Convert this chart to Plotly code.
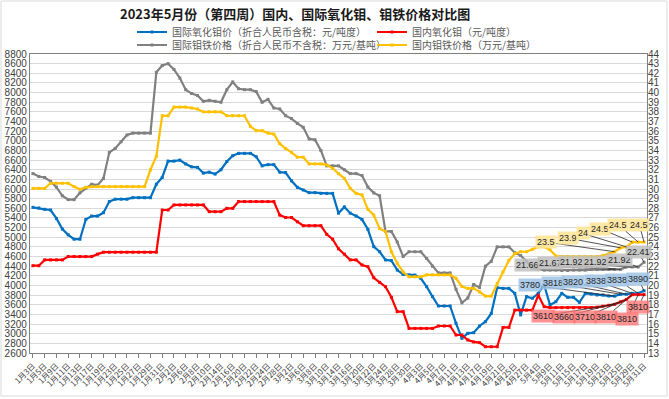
import plotly.graph_objects as go

# ---------------- data ----------------
months_days = [
    (1, [3, 4, 5, 6, 9, 10, 11, 12, 13, 16, 17, 18, 19, 20, 23, 24, 25, 26, 27, 28, 29, 30, 31]),
    (2, [1, 2, 3, 6, 7, 8, 9, 10, 13, 14, 15, 16, 17, 20, 21, 22, 23, 24, 27, 28]),
    (3, [1, 2, 3, 6, 7, 8, 9, 10, 13, 14, 15, 16, 17, 20, 21, 22, 23, 24, 27, 28, 29, 30, 31]),
    (4, [3, 4, 5, 6, 7, 10, 11, 12, 13, 14, 17, 18, 19, 20, 21, 24, 25, 26, 27, 28]),
    (5, [4, 8, 9, 10, 11, 12, 15, 16, 17, 18, 19, 22, 23, 24, 25, 26, 29, 30, 31]),
]
dates = [f"{m}月{d}日" for m, days in months_days for d in days]

intl_oxide = [5620, 5607, 5580, 5565, 5390, 5170, 5050, 4960, 4960, 5370,
              5440, 5440, 5510, 5740, 5790, 5790, 5790, 5820, 5820, 5820,
              5820, 6100, 6240, 6580, 6580, 6600, 6520, 6460, 6450, 6330,
              6350, 6310, 6400, 6570, 6690, 6740, 6740, 6740, 6670, 6480,
              6505, 6505, 6350, 6340, 6170, 6035, 5980, 5925, 5925, 5910,
              5910, 5910, 5500, 5630, 5500, 5440, 5370, 5165, 4805, 4700,
              4530, 4515, 4320, 4230, 4217, 4217, 4150, 3975, 3770, 3575,
              3575, 3575, 3215, 2905, 3008, 3022, 3160, 3250, 3420, 3955,
              3940, 3940, 3837, 3390, 3770, 3735, 3837, 4010, 3595, 3665,
              3837, 3755, 3755, 3650, 3837, 3823, 3803, 3803, 3782, 3780,
              3818, 3820, 3838, 3838, 3890]

dom_oxide = [4410, 4410, 4530, 4530, 4530, 4530, 4600, 4600, 4600, 4600,
             4600, 4650, 4690, 4690, 4690, 4690, 4690, 4690, 4690, 4690,
             4690, 4690, 5565, 5565, 5670, 5670, 5670, 5670, 5670, 5670,
             5530, 5530, 5530, 5600, 5600, 5740, 5740, 5740, 5740, 5740,
             5740, 5740, 5460, 5410, 5410, 5320, 5240, 5240, 5240, 5240,
             5060, 4960, 4760, 4650, 4530, 4530, 4425, 4390, 4160, 4065,
             3975, 3755, 3457, 3457, 3110, 3110, 3110, 3110, 3110, 3160,
             3160, 3160, 2973, 2973, 2870, 2830, 2815, 2730, 2730, 2730,
             3130, 3130, 3490, 3490, 3490, 3490, 3800, 3560, 3540, 3540,
             3540, 3540, 3540, 3540, 3540, 3540, 3550, 3570, 3590, 3610,
             3660, 3710, 3810, 3810, 3810]

intl_feMo = [31.6, 31.3, 31.2, 30.8, 30.2, 29.3, 28.9, 28.9, 29.6, 30.1,
             30.5, 30.4, 31.1, 33.8, 34.2, 34.9, 35.6, 35.8, 35.8, 35.8,
             35.8, 42.1, 42.8, 43.0, 42.4, 41.5, 40.3, 39.9, 39.7, 39.1,
             39.2, 39.1, 39.0, 40.3, 41.1, 40.4, 40.3, 40.3, 40.1, 39.0,
             39.3, 38.4, 38.3, 37.6, 37.3, 36.8, 36.4, 35.2, 35.1, 34.0,
             32.4, 32.4, 32.4, 32.0, 31.6, 31.6, 31.4, 30.2, 29.6, 29.3,
             25.6, 25.6, 24.5, 23.0, 23.5, 23.5, 23.5, 22.8, 22.0, 21.3,
             21.3, 21.3, 19.6, 18.2, 18.7, 20.1, 19.8, 22.0, 22.5, 24.0,
             24.0, 24.0, 23.4, 23.1, 22.5, 21.8, 21.7, 21.6, 21.6, 21.6,
             21.55, 21.55, 21.6, 21.6, 21.6, 21.65, 21.65, 21.66, 21.66, 21.66,
             21.67, 21.92, 21.92, 21.92, 22.41]

dom_feMo = [30.07, 30.07, 30.07, 30.6, 30.6, 30.6, 30.6, 30.25, 29.97, 30.18,
            30.25, 30.25, 30.25, 30.25, 30.25, 30.25, 30.25, 30.25, 30.25, 30.25,
            32.0, 33.4, 37.6, 37.6, 38.5, 38.5, 38.5, 38.4, 38.3, 38.0,
            38.0, 38.0, 38.0, 37.6, 37.6, 37.6, 37.6, 36.5, 36.05, 36.05,
            35.8, 35.7, 34.7, 34.2, 33.8, 33.3, 33.3, 32.6, 32.6, 32.6,
            32.5, 32.15, 31.6, 31.1, 30.07, 29.55, 29.4, 27.9, 27.3, 25.9,
            25.6, 23.5, 22.3, 21.4, 20.9, 20.9, 20.9, 21.1, 21.1, 21.1,
            21.1, 21.1, 20.75, 19.9, 19.7, 19.7, 19.35, 18.9, 18.9, 20.2,
            21.4, 22.6, 23.3, 23.5, 23.5, 23.75, 24.0, 24.0, 23.7, 23.05,
            23.0, 23.0, 23.0, 23.0, 23.0, 23.0, 23.0, 23.1, 23.3, 23.5,
            23.9, 24.0, 24.5, 24.5, 24.5]

names = ["国际氧化钼价（折合人民币含税：元/吨度）", "国内氧化钼（元/吨度）",
         "国际钼铁价格（折合人民币不含税：万元/基吨）", "国内钼铁价格（万元/基吨）"]
colors = ["#0070C0", "#FF0000", "#808080", "#FFC000"]

# data-label placement (label box centres, in axis units) for the last six points
n_lab = 6
lab_x_blue = [84.6, 88.5, 91.9, 95.8, 99.4, 103.0]
lab_y_blue = [4010, 4052, 4072, 4093, 4114, 4134]
lab_x_red = [86.8, 90.4, 94.0, 97.5, 101.1, 103.0]
lab_y_red = [3367, 3346, 3346, 3346, 3305, 3554]
lab_x_gray = [84.1, 88.0, 91.6, 95.8, 99.9, 103.0]
lab_y_gray = [22.1, 22.3, 22.4, 22.4, 22.6, 23.5]
lab_x_yel = [87.3, 91.1, 93.6, 96.5, 99.6, 103.2]
lab_y_yel = [24.5, 24.9, 25.4, 25.9, 26.3, 26.3]

# ---------------- figure ----------------
W, H = 669, 399
ML, MR, MT, MB = 30, 22, 54, 46
xs = list(range(len(dates)))

fig = go.Figure()
series = [(intl_oxide, "y", "legend"), (dom_oxide, "y", "legend"),
          (intl_feMo, "y2", "legend2"), (dom_feMo, "y2", "legend2")]
for (vals, yax, leg), nm, col in zip(series, names, colors):
    fig.add_trace(go.Scatter(
        x=xs, y=vals, name=nm, yaxis=yax, legend=leg,
        mode="lines+markers",
        line=dict(color=col, width=2.2),
        marker=dict(symbol="square", size=3, color=col),
    ))

label_sets = [
    (intl_oxide, "y", lab_x_blue, lab_y_blue, "rgba(157,195,230,0.85)", "{:.0f}"),
    (dom_oxide, "y", lab_x_red, lab_y_red, "rgba(255,110,110,0.75)", "{:.0f}"),
    (intl_feMo, "y2", lab_x_gray, lab_y_gray, "rgba(191,191,191,0.85)", "{:g}"),
    (dom_feMo, "y2", lab_x_yel, lab_y_yel, "rgba(255,230,153,0.9)", "{:g}"),
]
annotations = []
N = len(dates)
for vals, yax, lx, ly, bg, fmt in label_sets:
    for k in range(n_lab):
        i = N - n_lab + k
        annotations.append(dict(
            x=xs[i], y=vals[i], xref="x", yref=yax,
            ax=lx[k], ay=ly[k], axref="x", ayref=yax,
            text=fmt.format(vals[i]), showarrow=True, arrowhead=0,
            arrowwidth=0.8, arrowcolor="#262626", standoff=0,
            bgcolor=bg, borderpad=1,
            font=dict(family="Liberation Sans, Arial", size=9, color="#262626"),
        ))

pw, ph = W - ML - MR, H - MT - MB
annotations.append(dict(
    text="<b>2023年5月份（第四周）国内、国际氧化钼、钼铁价格对比图</b>",
    xref="paper", yref="paper", x=(295 - ML) / pw, y=(H - MB - 13) / ph,
    xanchor="center", yanchor="middle", showarrow=False,
    font=dict(family="Noto Sans CJK SC", size=13, color="#1a1a1a"),
))

fig.add_shape(type="rect", xref="paper", yref="paper",
              x0=(1 - ML) / pw, x1=(W - 2 - ML) / pw,
              y0=(H - MB - (H - 3)) / ph, y1=(H - MB - 1) / ph,
              line=dict(color="#D9D9D9", width=1), layer="below")

legend_common = dict(
    orientation="h", xref="container", yref="container",
    xanchor="left", yanchor="middle",
    entrywidth=195, entrywidthmode="pixels",
    font=dict(family="Noto Sans CJK SC", size=10, color="#595959"),
    bgcolor="rgba(0,0,0,0)", itemwidth=30, tracegroupgap=0,
)

fig.update_layout(
    width=W, height=H,
    margin=dict(l=ML, r=MR, t=MT, b=MB, autoexpand=False),
    paper_bgcolor="white", plot_bgcolor="white",
    showlegend=True,
    legend=dict(x=132 / W, y=1 - 32 / H, **legend_common),
    legend2=dict(x=132 / W, y=1 - 45 / H, **legend_common),
    annotations=annotations,
    font=dict(family="Liberation Sans, Arial", size=10, color="#404040"),
    xaxis=dict(
        range=[-0.5, N - 0.5], tickmode="array",
        tickvals=xs[::2], ticktext=dates[::2], tickangle=-45,
        tickfont=dict(family="Noto Sans CJK SC", size=8, color="#404040"),
        showgrid=False, zeroline=False, automargin=False,
        showline=True, linecolor="#7F7F7F", linewidth=1.3, mirror=True,
        ticks="outside", ticklen=4, tickcolor="#7F7F7F",
    ),
    yaxis=dict(
        range=[2600, 8800], dtick=200, tick0=2600,
        showgrid=True, gridcolor="#D9D9D9", gridwidth=1, zeroline=False,
        showline=True, linecolor="#7F7F7F", linewidth=1.3, mirror=True,
        tickfont=dict(family="Liberation Sans, Arial", size=10, color="#404040"),
        ticks="", automargin=False,
    ),
    yaxis2=dict(
        range=[13, 44], dtick=1, tick0=13, overlaying="y", side="right",
        showgrid=False, zeroline=False, showline=False,
        tickfont=dict(family="Liberation Sans, Arial", size=10, color="#404040"),
        ticks="", automargin=False,
    ),
)

fig.write_html("out.html", config={"displayModeBar": False},
               post_script="document.body.style.margin='0px';document.body.style.overflow='hidden';")
